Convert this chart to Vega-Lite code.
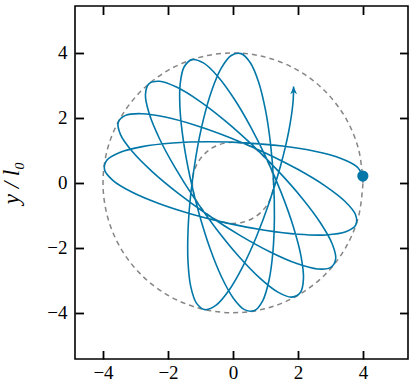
{
  "$schema": "https://vega.github.io/schema/vega-lite/v6.json",
  "width": 333,
  "height": 353,
  "autosize": {"type": "none"},
  "padding": {"left": 75, "top": 6, "right": 1, "bottom": 22},
  "background": "white",
  "config": {
    "view": {"stroke": "black", "strokeWidth": 1.6},
    "axis": {
      "grid": false,
      "domain": false,
      "tickSize": -8.5,
      "tickWidth": 1.8,
      "tickColor": "black",
      "labelFont": "Liberation Serif",
      "labelFontSize": 19,
      "labelColor": "black",
      "titleFont": "Liberation Serif",
      "titleFontSize": 23,
      "titleColor": "black",
      "titleFontWeight": "normal"
    }
  },
  "datasets": {
    "circles": [
      {"c": "o", "i": 0, "x": 4, "y": 0}, {"c": "o", "i": 1, "x": 3.8637, "y": 1.0353}, {"c": "o", "i": 2, "x": 3.4641, "y": 2}, {"c": "o", "i": 3, "x": 2.8284, "y": 2.8284}, {"c": "o", "i": 4, "x": 2, "y": 3.4641}, {"c": "o", "i": 5, "x": 1.0353, "y": 3.8637}, {"c": "o", "i": 6, "x": 0, "y": 4}, {"c": "o", "i": 7, "x": -1.0353, "y": 3.8637}, {"c": "o", "i": 8, "x": -2, "y": 3.4641}, {"c": "o", "i": 9, "x": -2.8284, "y": 2.8284}, {"c": "o", "i": 10, "x": -3.4641, "y": 2}, {"c": "o", "i": 11, "x": -3.8637, "y": 1.0353}, {"c": "o", "i": 12, "x": -4, "y": 0}, {"c": "o", "i": 13, "x": -3.8637, "y": -1.0353}, {"c": "o", "i": 14, "x": -3.4641, "y": -2}, {"c": "o", "i": 15, "x": -2.8284, "y": -2.8284}, {"c": "o", "i": 16, "x": -2, "y": -3.4641}, {"c": "o", "i": 17, "x": -1.0353, "y": -3.8637}, {"c": "o", "i": 18, "x": 0, "y": -4}, {"c": "o", "i": 19, "x": 1.0353, "y": -3.8637}, {"c": "o", "i": 20, "x": 2, "y": -3.4641}, {"c": "o", "i": 21, "x": 2.8284, "y": -2.8284}, {"c": "o", "i": 22, "x": 3.4641, "y": -2}, {"c": "o", "i": 23, "x": 3.8637, "y": -1.0353}, {"c": "o", "i": 24, "x": 4, "y": 0},
      {"c": "n", "i": 0, "x": 1.25, "y": 0}, {"c": "n", "i": 1, "x": 1.2074, "y": 0.3235}, {"c": "n", "i": 2, "x": 1.0825, "y": 0.625}, {"c": "n", "i": 3, "x": 0.8839, "y": 0.8839}, {"c": "n", "i": 4, "x": 0.625, "y": 1.0825}, {"c": "n", "i": 5, "x": 0.3235, "y": 1.2074}, {"c": "n", "i": 6, "x": 0, "y": 1.25}, {"c": "n", "i": 7, "x": -0.3235, "y": 1.2074}, {"c": "n", "i": 8, "x": -0.625, "y": 1.0825}, {"c": "n", "i": 9, "x": -0.8839, "y": 0.8839}, {"c": "n", "i": 10, "x": -1.0825, "y": 0.625}, {"c": "n", "i": 11, "x": -1.2074, "y": 0.3235}, {"c": "n", "i": 12, "x": -1.25, "y": 0}, {"c": "n", "i": 13, "x": -1.2074, "y": -0.3235}, {"c": "n", "i": 14, "x": -1.0825, "y": -0.625}, {"c": "n", "i": 15, "x": -0.8839, "y": -0.8839}, {"c": "n", "i": 16, "x": -0.625, "y": -1.0825}, {"c": "n", "i": 17, "x": -0.3235, "y": -1.2074}, {"c": "n", "i": 18, "x": 0, "y": -1.25}, {"c": "n", "i": 19, "x": 0.3235, "y": -1.2074}, {"c": "n", "i": 20, "x": 0.625, "y": -1.0825}, {"c": "n", "i": 21, "x": 0.8839, "y": -0.8839}, {"c": "n", "i": 22, "x": 1.0825, "y": -0.625}, {"c": "n", "i": 23, "x": 1.2074, "y": -0.3235}, {"c": "n", "i": 24, "x": 1.25, "y": 0}
    ],
    "orbit": [
      {"i": 0, "x": 3.995, "y": 0.209}, {"i": 1, "x": 3.810, "y": 0.499}, {"i": 2, "x": 3.304, "y": 0.757}, {"i": 3, "x": 2.517, "y": 0.971}, {"i": 4, "x": 1.519, "y": 1.133}, {"i": 5, "x": 0.392, "y": 1.232}, {"i": 6, "x": -0.767, "y": 1.265}, {"i": 7, "x": -1.858, "y": 1.226}, {"i": 8, "x": -2.791, "y": 1.116}, {"i": 9, "x": -3.485, "y": 0.937},
      {"i": 10, "x": -3.883, "y": 0.696}, {"i": 11, "x": -3.953, "y": 0.402}, {"i": 12, "x": -3.689, "y": 0.070}, {"i": 13, "x": -3.115, "y": -0.283}, {"i": 14, "x": -2.283, "y": -0.636}, {"i": 15, "x": -1.264, "y": -0.966}, {"i": 16, "x": -0.145, "y": -1.249}, {"i": 17, "x": 0.978, "y": -1.462}, {"i": 18, "x": 2.009, "y": -1.585}, {"i": 19, "x": 2.864, "y": -1.604},
      {"i": 20, "x": 3.470, "y": -1.508}, {"i": 21, "x": 3.779, "y": -1.297}, {"i": 22, "x": 3.768, "y": -0.978}, {"i": 23, "x": 3.442, "y": -0.568}, {"i": 24, "x": 2.832, "y": -0.092}, {"i": 25, "x": 1.992, "y": 0.417}, {"i": 26, "x": 0.996, "y": 0.922}, {"i": 27, "x": -0.070, "y": 1.382}, {"i": 28, "x": -1.114, "y": 1.759}, {"i": 29, "x": -2.051, "y": 2.018},
      {"i": 30, "x": -2.803, "y": 2.130}, {"i": 31, "x": -3.309, "y": 2.078}, {"i": 32, "x": -3.532, "y": 1.858}, {"i": 33, "x": -3.458, "y": 1.479}, {"i": 34, "x": -3.098, "y": 0.964}, {"i": 35, "x": -2.488, "y": 0.347}, {"i": 36, "x": -1.684, "y": -0.324}, {"i": 37, "x": -0.757, "y": -0.997}, {"i": 38, "x": 0.214, "y": -1.617}, {"i": 39, "x": 1.146, "y": -2.129},
      {"i": 40, "x": 1.964, "y": -2.486}, {"i": 41, "x": 2.601, "y": -2.652}, {"i": 42, "x": 3.009, "y": -2.605}, {"i": 43, "x": 3.161, "y": -2.341}, {"i": 44, "x": 3.051, "y": -1.874}, {"i": 45, "x": 2.693, "y": -1.236}, {"i": 46, "x": 2.126, "y": -0.474}, {"i": 47, "x": 1.401, "y": 0.352}, {"i": 48, "x": 0.583, "y": 1.175}, {"i": 49, "x": -0.258, "y": 1.924},
      {"i": 50, "x": -1.053, "y": 2.533}, {"i": 51, "x": -1.739, "y": 2.949}, {"i": 52, "x": -2.263, "y": 3.128}, {"i": 53, "x": -2.588, "y": 3.050}, {"i": 54, "x": -2.694, "y": 2.713}, {"i": 55, "x": -2.582, "y": 2.141}, {"i": 56, "x": -2.269, "y": 1.374}, {"i": 57, "x": -1.787, "y": 0.474}, {"i": 58, "x": -1.182, "y": -0.487}, {"i": 59, "x": -0.507, "y": -1.427},
      {"i": 60, "x": 0.181, "y": -2.267}, {"i": 61, "x": 0.827, "y": -2.933}, {"i": 62, "x": 1.382, "y": -3.364}, {"i": 63, "x": 1.806, "y": -3.519}, {"i": 64, "x": 2.073, "y": -3.380}, {"i": 65, "x": 2.168, "y": -2.953}, {"i": 66, "x": 2.095, "y": -2.269}, {"i": 67, "x": 1.866, "y": -1.382}, {"i": 68, "x": 1.508, "y": -0.364}, {"i": 69, "x": 1.055, "y": 0.699},
      {"i": 70, "x": 0.547, "y": 1.718}, {"i": 71, "x": 0.024, "y": 2.606}, {"i": 72, "x": -0.474, "y": 3.285}, {"i": 73, "x": -0.911, "y": 3.693}, {"i": 74, "x": -1.260, "y": 3.794}, {"i": 75, "x": -1.502, "y": 3.575}, {"i": 76, "x": -1.625, "y": 3.050}, {"i": 77, "x": -1.630, "y": 2.263}, {"i": 78, "x": -1.524, "y": 1.276}, {"i": 79, "x": -1.322, "y": 0.173},
      {"i": 80, "x": -1.043, "y": -0.954}, {"i": 81, "x": -0.712, "y": -2.008}, {"i": 82, "x": -0.352, "y": -2.899}, {"i": 83, "x": 0.011, "y": -3.551}, {"i": 84, "x": 0.355, "y": -3.905}, {"i": 85, "x": 0.663, "y": -3.931}, {"i": 86, "x": 0.917, "y": -3.624}, {"i": 87, "x": 1.107, "y": -3.009}, {"i": 88, "x": 1.227, "y": -2.138}, {"i": 89, "x": 1.274, "y": -1.083},
      {"i": 90, "x": 1.248, "y": 0.065}, {"i": 91, "x": 1.154, "y": 1.211}, {"i": 92, "x": 0.997, "y": 2.255}, {"i": 93, "x": 0.787, "y": 3.109}, {"i": 94, "x": 0.533, "y": 3.700}, {"i": 95, "x": 0.248, "y": 3.979}, {"i": 96, "x": -0.055, "y": 3.921}, {"i": 97, "x": -0.361, "y": 3.532}, {"i": 98, "x": -0.654, "y": 2.846}, {"i": 99, "x": -0.918, "y": 1.923},
      {"i": 100, "x": -1.137, "y": 0.840}, {"i": 101, "x": -1.296, "y": -0.310}, {"i": 102, "x": -1.382, "y": -1.428}, {"i": 103, "x": -1.385, "y": -2.421}, {"i": 104, "x": -1.298, "y": -3.204}, {"i": 105, "x": -1.120, "y": -3.712}, {"i": 106, "x": -0.857, "y": -3.905}, {"i": 107, "x": -0.520, "y": -3.768}, {"i": 108, "x": -0.128, "y": -3.316}, {"i": 109, "x": 0.296, "y": -2.589},
      {"i": 110, "x": 0.723, "y": -1.652}, {"i": 111, "x": 1.122, "y": -0.585}, {"i": 112, "x": 1.462, "y": 0.520}, {"i": 113, "x": 1.712, "y": 1.570}, {"i": 114, "x": 1.846, "y": 2.475}, {"i": 115, "x": 1.864, "y": 2.964}
    ],
    "start": [{"x": 3.995, "y": 0.209}],
    "arrow": [{"x": 1.866, "y": 2.84}]
  },
  "layer": [
    {
      "data": {"name": "circles"},
      "mark": {"type": "line", "interpolate": "catmull-rom", "color": "#858585", "strokeWidth": 1.5, "strokeDash": [5, 4]},
      "encoding": {
        "x": {"field": "x", "type": "quantitative", "scale": {"domain": [-4.862, 5.385], "nice": false, "zero": false},
              "axis": {"orient": "bottom", "values": [-4, -2, 0, 2, 4], "title": null, "labelPadding": 12.5}},
        "y": {"field": "y", "type": "quantitative", "scale": {"domain": [-5.425, 5.446], "nice": false, "zero": false},
              "axis": {"orient": "left", "values": [-4, -2, 0, 2, 4], "title": "y / l₀", "titleFontStyle": "italic", "labelPadding": 16.5, "titlePadding": 23}},
        "detail": {"field": "c"},
        "order": {"field": "i"}
      }
    },
    {
      "data": {"name": "orbit"},
      "mark": {"type": "line", "interpolate": "catmull-rom", "color": "#0077a8", "strokeWidth": 1.6},
      "encoding": {
        "x": {"field": "x", "type": "quantitative", "scale": {"domain": [-4.862, 5.385], "nice": false, "zero": false}, "axis": null},
        "y": {"field": "y", "type": "quantitative", "scale": {"domain": [-5.425, 5.446], "nice": false, "zero": false}, "axis": null},
        "order": {"field": "i"}
      }
    },
    {
      "data": {"name": "start"},
      "mark": {"type": "point", "shape": "circle", "filled": true, "size": 125, "color": "#0077a8", "opacity": 1},
      "encoding": {
        "x": {"field": "x", "type": "quantitative", "scale": {"domain": [-4.862, 5.385], "nice": false, "zero": false},
              "axis": {"orient": "top", "values": [-4, -2, 0, 2, 4], "labels": false, "title": null}},
        "y": {"field": "y", "type": "quantitative", "scale": {"domain": [-5.425, 5.446], "nice": false, "zero": false},
              "axis": {"orient": "right", "values": [-4, -2, 0, 2, 4], "labels": false, "title": null}}
      }
    },
    {
      "data": {"name": "arrow"},
      "mark": {"type": "point", "shape": "M0,-1L0.85,0.9L0,0.35L-0.85,0.9Z", "filled": true, "size": 64, "color": "#0077a8", "opacity": 1, "strokeWidth": 0},
      "encoding": {
        "x": {"field": "x", "type": "quantitative", "scale": {"domain": [-4.862, 5.385], "nice": false, "zero": false}, "axis": null},
        "y": {"field": "y", "type": "quantitative", "scale": {"domain": [-5.425, 5.446], "nice": false, "zero": false}, "axis": null}
      }
    }
  ],
  "resolve": {"axis": {"x": "independent", "y": "independent"}}
}
